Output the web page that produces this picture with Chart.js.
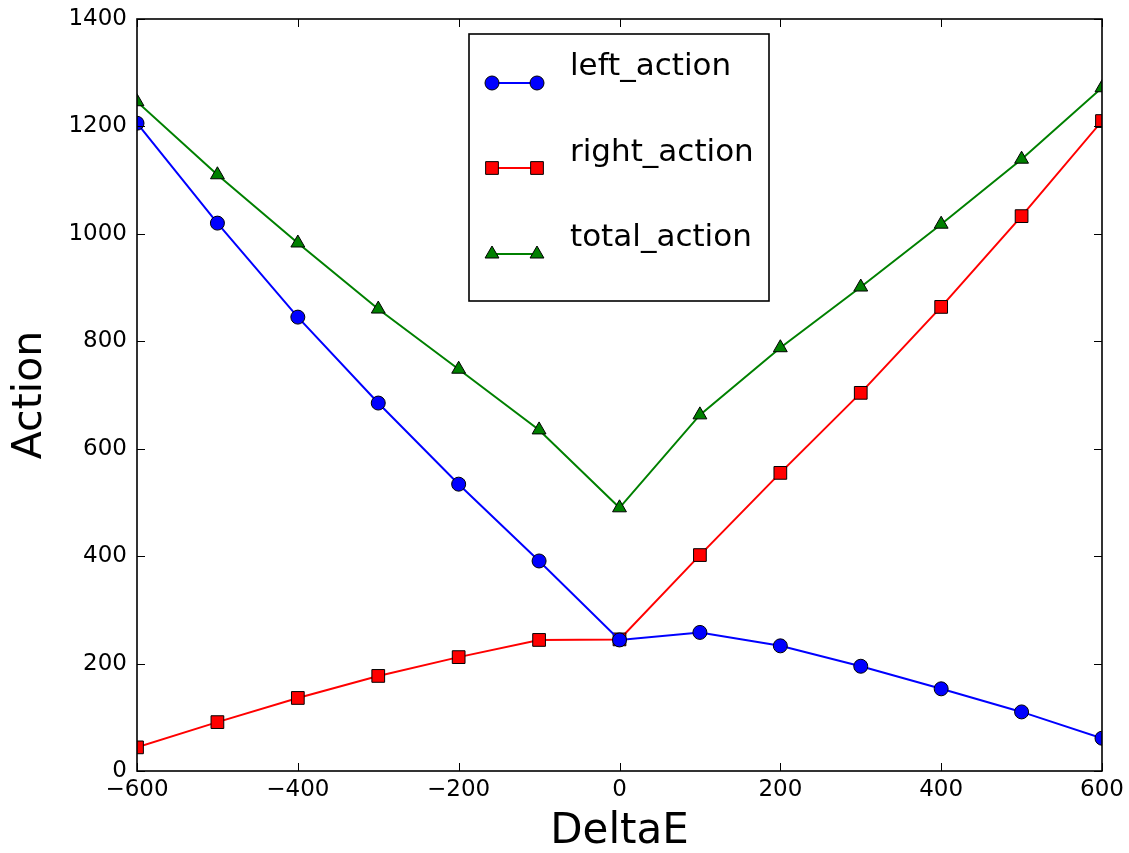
<!DOCTYPE html>
<html lang="en">

<head>
    <meta charset="UTF-8">
    <script src="https://cdn.jsdelivr.net/npm/chart.js"></script>
    <title>action vs deltaE</title>
    <style>
        body { margin: 0; background: #fff; }
    </style>
</head>

<body>
    <canvas id="grafico" width="1129" height="853"></canvas>
</body>

</html>

<script>
    // dados
    const deltaE = [-600, -500, -400, -300, -200, -100, 0, 100, 200, 300, 400, 500, 600];
    const leftAction = [1206, 1020, 845, 685, 534, 391, 244, 258, 233, 195, 153, 110, 61];
    const rightAction = [44, 91, 136, 177, 212, 244, 245, 402, 555, 704, 864, 1033, 1210];
    const totalAction = [1246, 1110, 983, 860, 748, 635, 490, 663, 788, 901, 1018, 1139, 1272];

    const xTicks = [-600, -400, -200, 0, 200, 400, 600];
    const yTicks = [0, 200, 400, 600, 800, 1000, 1200, 1400];

    const series = [
        { label: 'left_action', data: leftAction, color: '#0000ff', style: 'circle', radius: 7 },
        { label: 'right_action', data: rightAction, color: '#ff0000', style: 'rect', radius: 9 },
        { label: 'total_action', data: totalAction, color: '#008000', style: 'triangle', radius: 8 }
    ];

    function pontos(valores) {
        return deltaE.map((x, i) => ({ x: x, y: valores[i] }));
    }

    function menos(v) {
        return v < 0 ? '\u2212' + Math.abs(v) : '' + v;
    }

    function desenharMarcador(ctx, estilo, x, y, r, cor) {
        ctx.beginPath();
        if (estilo === 'circle') {
            ctx.arc(x, y, r, 0, Math.PI * 2);
        } else if (estilo === 'rect') {
            const s = r * Math.SQRT1_2;
            ctx.rect(x - s, y - s, 2 * s, 2 * s);
        } else {
            ctx.moveTo(x, y - r);
            ctx.lineTo(x + Math.sin(2 * Math.PI / 3) * r, y - Math.cos(2 * Math.PI / 3) * r);
            ctx.lineTo(x + Math.sin(4 * Math.PI / 3) * r, y - Math.cos(4 * Math.PI / 3) * r);
            ctx.closePath();
        }
        ctx.fillStyle = cor;
        ctx.fill();
        ctx.lineWidth = 1;
        ctx.strokeStyle = '#000';
        ctx.stroke();
    }

    // moldura e ticks para dentro, estilo matplotlib
    const moldura = {
        id: 'moldura',
        afterDatasetsDraw(chart) {
            const { ctx, chartArea: a, scales: { x, y } } = chart;
            ctx.save();
            ctx.strokeStyle = '#000';
            ctx.lineWidth = 1;
            ctx.beginPath();
            xTicks.forEach(v => {
                const px = Math.round(x.getPixelForValue(v)) + 0.5;
                ctx.moveTo(px, a.bottom); ctx.lineTo(px, a.bottom - 8);
                ctx.moveTo(px, a.top); ctx.lineTo(px, a.top + 8);
            });
            yTicks.forEach(v => {
                const py = Math.round(y.getPixelForValue(v)) + 0.5;
                ctx.moveTo(a.left, py); ctx.lineTo(a.left + 8, py);
                ctx.moveTo(a.right, py); ctx.lineTo(a.right - 8, py);
            });
            ctx.stroke();
            ctx.lineWidth = 1.6;
            ctx.strokeRect(a.left, a.top, a.right - a.left, a.bottom - a.top);
            ctx.restore();
        }
    };

    const legenda = {
        id: 'legenda',
        afterDraw(chart) {
            const ctx = chart.ctx;
            ctx.save();
            ctx.fillStyle = '#fff';
            ctx.fillRect(469, 34, 300, 267);
            ctx.strokeStyle = '#000';
            ctx.lineWidth = 1.6;
            ctx.strokeRect(469, 34, 300, 267);
            const linhaY = [83, 168, 254];
            const textoY = [75, 161, 246];
            ctx.font = '31px "DejaVu Sans"';
            ctx.textBaseline = 'alphabetic';
            series.forEach((s, i) => {
                ctx.beginPath();
                ctx.moveTo(492, linhaY[i]);
                ctx.lineTo(537, linhaY[i]);
                ctx.strokeStyle = s.color;
                ctx.lineWidth = 2;
                ctx.stroke();
                desenharMarcador(ctx, s.style, 492, linhaY[i], s.radius, s.color);
                desenharMarcador(ctx, s.style, 537, linhaY[i], s.radius, s.color);
                ctx.fillStyle = '#000';
                ctx.fillText(s.label, 570, textoY[i]);
            });
            ctx.restore();
        }
    };

    const dados = {
        datasets: series.map(s => ({
            label: s.label,
            data: pontos(s.data),
            borderColor: s.color,
            backgroundColor: s.color,
            borderWidth: 2,
            pointStyle: s.style,
            pointRadius: s.radius,
            pointBackgroundColor: s.color,
            pointBorderColor: '#000',
            pointBorderWidth: 1,
            tension: 0,
            clip: 0
        }))
    };

    const config = {
        type: 'line',
        data: dados,
        options: {
            responsive: false,
            animation: false,
            devicePixelRatio: 1,
            layout: { padding: { left: 0, top: 19, right: 27, bottom: 0 } },
            plugins: {
                legend: { display: false },
                tooltip: { enabled: false }
            },
            scales: {
                x: {
                    type: 'linear',
                    min: -600,
                    max: 600,
                    grid: { display: false, drawTicks: false },
                    border: { display: false },
                    ticks: {
                        stepSize: 200,
                        color: '#000',
                        padding: 5,
                        maxRotation: 0,
                        font: { family: 'DejaVu Sans', size: 23 },
                        callback: v => menos(v)
                    },
                    title: {
                        display: true,
                        text: 'DeltaE',
                        color: '#000',
                        padding: 0,
                        font: { family: 'DejaVu Sans', size: 42, lineHeight: 1 }
                    },
                    afterFit: s => {
                        s.height = 82;
                        s.paddingLeft = 0;
                        s.paddingRight = 0;
                    }
                },
                y: {
                    min: 0,
                    max: 1400,
                    grid: { display: false, drawTicks: false },
                    border: { display: false },
                    ticks: {
                        stepSize: 200,
                        color: '#000',
                        padding: 10,
                        font: { family: 'DejaVu Sans', size: 23 },
                        callback: v => '' + v
                    },
                    title: {
                        display: true,
                        text: 'Action',
                        color: '#000',
                        padding: { top: 10, bottom: 0 },
                        font: { family: 'DejaVu Sans', size: 41, lineHeight: 1 }
                    },
                    afterFit: s => {
                        s.width = 137;
                        s.paddingTop = 0;
                        s.paddingBottom = 0;
                    }
                }
            }
        },
        plugins: [moldura, legenda]
    };

    let ctx = document.getElementById('grafico').getContext('2d');
    let myChart = new Chart(ctx, config);
</script>
